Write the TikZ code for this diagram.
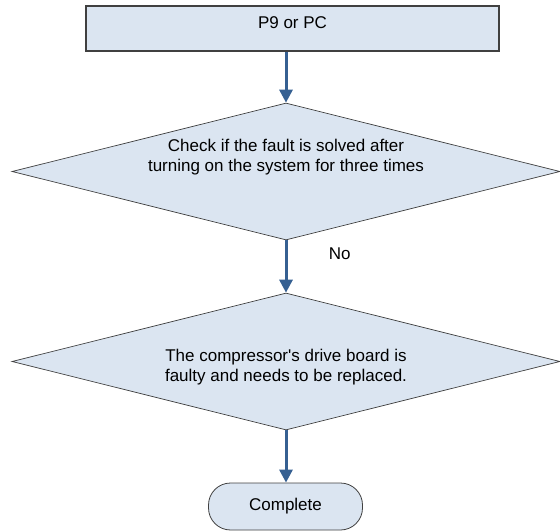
\documentclass[tikz,border=0pt]{standalone}
\usepackage{fontspec}
\setmainfont{Liberation Sans}
\usetikzlibrary{shapes.geometric, arrows.meta, positioning}
\definecolor{flowfill}{RGB}{219,229,241}
\definecolor{flowline}{RGB}{64,64,64}
\definecolor{flowblue}{RGB}{54,96,146}

\begin{document}
\begin{tikzpicture}[
    x=1pt, y=-1pt,
    txt/.style={align=center, text=black, font=\fontsize{17}{20}\selectfont},
    box/.style={rectangle, draw=flowline, fill=flowfill, line width=1.2pt,
                minimum width=413pt, minimum height=45pt, inner sep=0pt},
    decision/.style={diamond, draw=flowline, fill=flowfill, line width=0.7pt,
                minimum width=548pt, minimum height=137pt, inner sep=0pt},
    endbox/.style={rectangle, rounded corners=22pt, draw=flowline, fill=flowfill,
                line width=0.8pt, minimum width=154pt, minimum height=47pt, txt},
    arrow/.style={-{Triangle[length=13pt, width=13pt]}, line width=3pt, color=flowblue}
  ]
    \useasboundingbox (0,0) rectangle (560,532);
    \node[box, label={[txt, yshift=5.5pt]center:P9 or PC}] (p9) at (292.5,28.5) {};
    \node[decision, label={[txt, yshift=14pt]center:Check if the fault is solved after\\turning on the system for three times}] (chk) at (286,171.5) {};
    \node[decision, label={[txt, yshift=-5.5pt]center:The compressor\textquotesingle s drive board is\\faulty and needs to be replaced.}] (repl) at (286,361.5) {};
    \node[endbox] (done) at (285.5,506.5) {Complete};
    \draw[arrow] (p9.south -| chk.north) -- (chk.north);
    \draw[arrow] (chk.south) -- node[txt, pos=0.25, right=38pt] {No} (repl.north);
    \draw[arrow] (repl.south) -- (repl.south |- done.north);
  \end{tikzpicture}
\end{document}
